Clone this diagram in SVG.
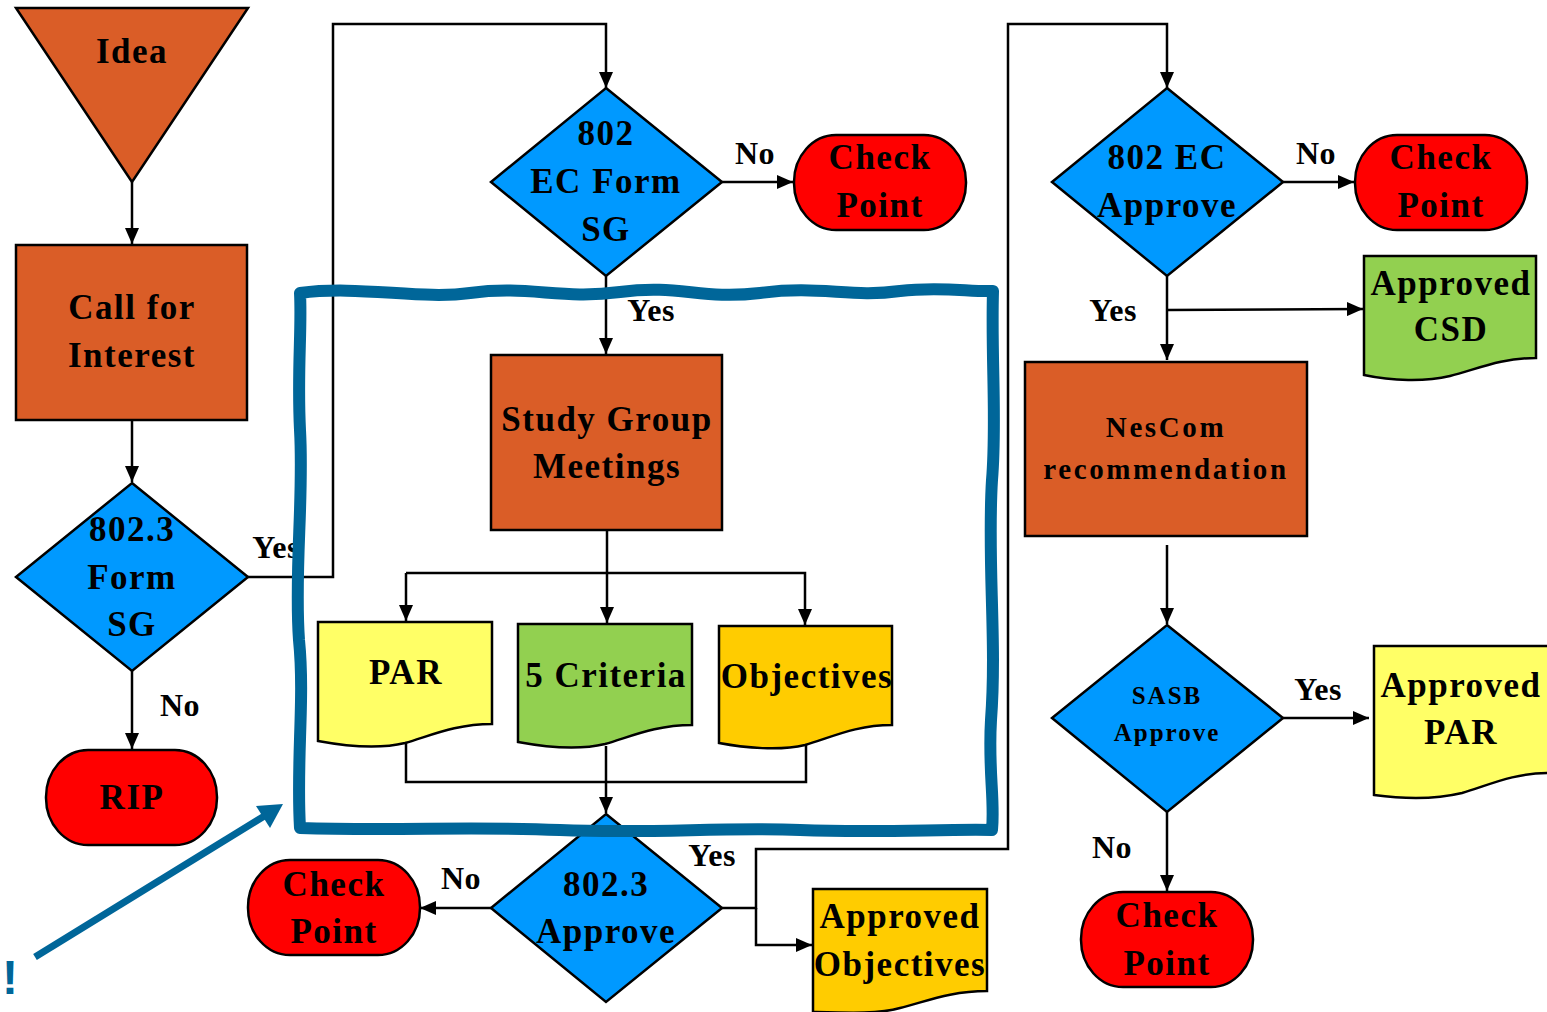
<svg xmlns="http://www.w3.org/2000/svg" width="1547" height="1012" viewBox="0 0 1547 1012">
<defs>
<style>
.t{font-family:"Liberation Serif","Times New Roman",serif;font-weight:bold;font-size:35px;letter-spacing:1.5px;fill:#000;text-anchor:middle}
.l{font-family:"Liberation Serif","Times New Roman",serif;font-weight:bold;font-size:32px;letter-spacing:0.5px;fill:#000;text-anchor:middle}
.s{font-family:"Liberation Serif","Times New Roman",serif;font-weight:bold;font-size:29px;letter-spacing:2.6px;fill:#000;text-anchor:middle}
.xs{font-family:"Liberation Serif","Times New Roman",serif;font-weight:bold;font-size:25px;letter-spacing:2px;fill:#000;text-anchor:middle}
.sh{stroke:#000;stroke-width:2.5}
.or{fill:#DA5D27}
.bl{fill:#0099FF}
.rd{fill:#FF0000}
.ye{fill:#FFFF66}
.gr{fill:#92D050}
.go{fill:#FFCC00}
.c{fill:none;stroke:#000;stroke-width:2.5}
.a{marker-end:url(#ah)}
</style>
<marker id="ah" markerUnits="userSpaceOnUse" markerWidth="16" markerHeight="14" refX="16" refY="7" orient="auto">
<path d="M0,0 L16,7 L0,14 Z" fill="#000"/>
</marker>
</defs>
<rect width="1547" height="1012" fill="#fff"/>

<g id="connectors">
<line class="c a" x1="132" y1="182" x2="132" y2="244"/>
<line class="c a" x1="132" y1="420" x2="132" y2="482"/>
<line class="c a" x1="132" y1="671" x2="132" y2="749"/>
<polyline class="c a" points="248,577 333,577 333,24 606,24 606,88"/>
<line class="c a" x1="722" y1="182" x2="793" y2="182"/>
<line class="c a" x1="606" y1="276" x2="606" y2="354"/>
<line class="c a" x1="607" y1="530" x2="607" y2="623"/>
<polyline class="c a" points="406,573 406,621"/>
<polyline class="c a" points="406,573 805,573 805,625"/>
<polyline class="c" points="406,741 406,782 806,782 806,743"/>
<line class="c a" x1="606" y1="746" x2="606" y2="813"/>
<line class="c a" x1="491" y1="908" x2="420" y2="908"/>
<polyline class="c a" points="722,908 756,908 756,849 1008,849 1008,24 1167,24 1167,88"/>
<polyline class="c a" points="756,908 756,945 812,945"/>
<line class="c a" x1="1283" y1="182" x2="1354" y2="182"/>
<line class="c a" x1="1167" y1="276" x2="1167" y2="360"/>
<line class="c a" x1="1167" y1="310" x2="1363" y2="309"/>
<line class="c a" x1="1167" y1="545" x2="1167" y2="624"/>
<line class="c a" x1="1283" y1="718" x2="1369" y2="718"/>
<line class="c a" x1="1167" y1="812" x2="1167" y2="891"/>
</g>

<g id="idea">
<polygon class="or sh" points="16,8 248,8 132,182"/>
<text class="t" x="132" y="63">Idea</text>
</g>
<g id="call-for-interest">
<rect class="or sh" x="16" y="245" width="231" height="175"/>
<text class="t" x="132" y="319">Call for</text>
<text class="t" x="132" y="367">Interest</text>
</g>
<g id="form-sg">
<polygon class="bl sh" points="132,483 248,577 132,671 16,577"/>
<text class="t" x="132" y="541">802.3</text>
<text class="t" x="132" y="589">Form</text>
<text class="t" x="132" y="636">SG</text>
</g>
<text class="l" x="276" y="558">Yes</text>
<text class="l" x="180" y="716">No</text>
<g id="rip">
<rect class="rd sh" x="46" y="750" width="171" height="95" rx="42" ry="47"/>
<text class="t" x="132" y="809">RIP</text>
</g>

<g id="ec-form-sg">
<polygon class="bl sh" points="606,88 722,182 606,276 491,182"/>
<text class="t" x="606" y="145">802</text>
<text class="t" x="606" y="193">EC Form</text>
<text class="t" x="606" y="241">SG</text>
</g>
<text class="l" x="755" y="164">No</text>
<g id="check-point-1">
<rect class="rd sh" x="794" y="135" width="172" height="95" rx="42" ry="47"/>
<text class="t" x="880" y="169">Check</text>
<text class="t" x="880" y="217">Point</text>
</g>
<text class="l" x="651" y="321">Yes</text>
<g id="study-group">
<rect class="or sh" x="491" y="355" width="231" height="175"/>
<text class="t" x="607" y="431">Study Group</text>
<text class="t" x="607" y="478">Meetings</text>
</g>
<g id="par">
<path class="ye sh" d="M318,622 H492 V724 C455,724 430,736 405,743 C380,749 345,746 318,741 Z"/>
<text class="t" x="406" y="684">PAR</text>
</g>
<g id="five-criteria">
<path class="gr sh" d="M518,624 H692 V725 C655,725 630,737 605,744 C580,750 545,747 518,742 Z"/>
<text class="t" x="606" y="687">5 Criteria</text>
</g>
<g id="objectives">
<path class="go sh" d="M719,626 H892 V725 C855,725 830,738 805,745 C780,751 745,748 719,743 Z"/>
<text class="t" x="807" y="688">Objectives</text>
</g>

<g id="approve-8023">
<polygon class="bl sh" points="606,814 722,908 606,1002 491,908"/>
<text class="t" x="606" y="896">802.3</text>
<text class="t" x="606" y="943">Approve</text>
</g>
<text class="l" x="461" y="889">No</text>
<text class="l" x="712" y="866">Yes</text>
<g id="check-point-2">
<rect class="rd sh" x="248" y="860" width="172" height="95" rx="42" ry="47"/>
<text class="t" x="334" y="896">Check</text>
<text class="t" x="334" y="943">Point</text>
</g>
<g id="approved-objectives">
<path class="go sh" d="M813,889 H987 V991 C950,991 925,1002 900,1008 C880,1014 850,1013 813,1012 Z"/>
<text class="t" x="900" y="928">Approved</text>
<text class="t" x="900" y="976">Objectives</text>
</g>

<g id="ec-approve">
<polygon class="bl sh" points="1167,88 1283,182 1167,276 1052,182"/>
<text class="t" x="1167" y="169">802 EC</text>
<text class="t" x="1167" y="217">Approve</text>
</g>
<text class="l" x="1316" y="164">No</text>
<g id="check-point-3">
<rect class="rd sh" x="1355" y="135" width="172" height="95" rx="42" ry="47"/>
<text class="t" x="1441" y="169">Check</text>
<text class="t" x="1441" y="217">Point</text>
</g>
<text class="l" x="1113" y="321">Yes</text>
<g id="approved-csd">
<path class="gr sh" d="M1364,256 H1536 V358 C1500,358 1475,370 1450,376 C1425,382 1392,381 1364,375 Z"/>
<text class="t" x="1451" y="295">Approved</text>
<text class="t" x="1451" y="341">CSD</text>
</g>
<g id="nescom">
<rect class="or sh" x="1025" y="362" width="282" height="174"/>
<text class="s" x="1166" y="437">NesCom</text>
<text class="s" x="1166" y="479">recommendation</text>
</g>
<g id="sasb-approve">
<polygon class="bl sh" points="1167,625 1283,718 1167,812 1052,718"/>
<text class="xs" x="1167" y="704">SASB</text>
<text class="xs" x="1167" y="741">Approve</text>
</g>
<text class="l" x="1318" y="700">Yes</text>
<g id="approved-par">
<path class="ye sh" d="M1374,646 H1549 V773 C1512,773 1487,786 1462,793 C1437,799 1404,799 1374,795 Z"/>
<text class="t" x="1461" y="697">Approved</text>
<text class="t" x="1461" y="744">PAR</text>
</g>
<text class="l" x="1112" y="858">No</text>
<g id="check-point-4">
<rect class="rd sh" x="1081" y="892" width="172" height="95" rx="42" ry="47"/>
<text class="t" x="1167" y="927">Check</text>
<text class="t" x="1167" y="975">Point</text>
</g>

<g id="highlight">
<path d="M300,293 C360,285 420,300 470,293 C530,285 560,300 620,292 C680,284 700,300 760,293 C820,285 850,298 900,291 C940,286 970,292 993,291 C991,360 997,420 992,480 C987,560 997,640 991,720 C988,770 995,800 992,830 C940,829 880,833 800,830 C720,827 650,834 560,830 C470,826 400,831 300,828 C296,760 305,700 299,640 C294,570 304,500 300,430 C297,370 302,330 300,293 Z" fill="none" stroke="#006699" stroke-width="12" stroke-linejoin="round" stroke-linecap="round"/>
<line x1="35" y1="957" x2="266" y2="815" stroke="#006699" stroke-width="7"/>
<polygon points="283,804 256,806 270,828" fill="#006699"/>
<text x="10" y="994" font-family="Liberation Sans, Arial, sans-serif" font-weight="bold" font-size="48" fill="#006699" text-anchor="middle">!</text>
</g>
</svg>
